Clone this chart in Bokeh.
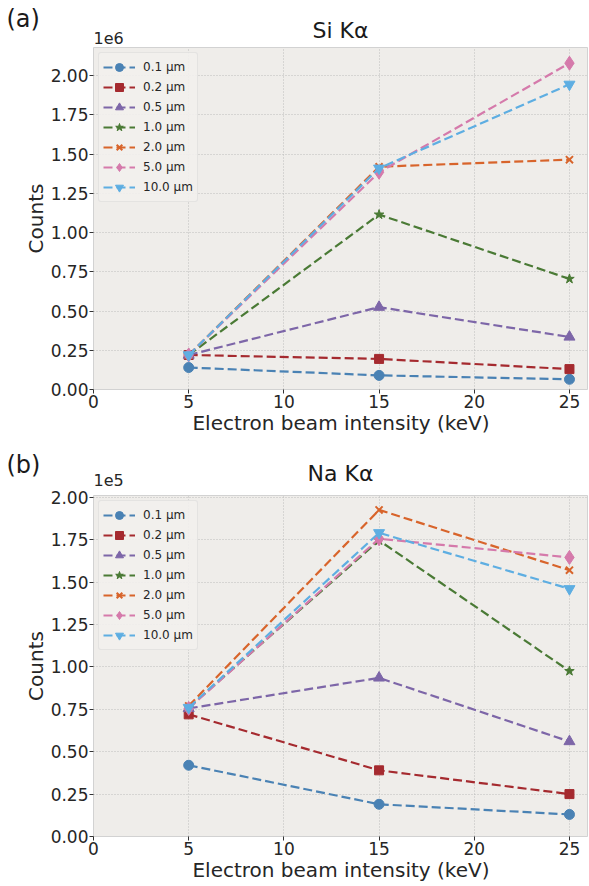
from bokeh.plotting import figure
from bokeh.layouts import column, row
from bokeh.models import FixedTicker, NumeralTickFormatter, Range1d
from bokeh.core.properties import value
from bokeh.embed import file_html
from bokeh.resources import INLINE

# ---------------- data ----------------
energy = [5, 15, 25]
thickness_labels = ["0.1 μm", "0.2 μm", "0.5 μm", "1.0 μm", "2.0 μm", "5.0 μm", "10.0 μm"]

# Si K-alpha counts (x 1e6)
si_01 = [0.14, 0.09, 0.065]
si_02 = [0.22, 0.195, 0.13]
si_05 = [0.22, 0.525, 0.335]
si_10 = [0.22, 1.115, 0.705]
si_20 = [0.22, 1.42, 1.465]
si_50 = [0.22, 1.385, 2.08]
si_100 = [0.22, 1.41, 1.945]

# Na K-alpha counts (x 1e5)
na_01 = [0.42, 0.19, 0.13]
na_02 = [0.72, 0.39, 0.25]
na_05 = [0.755, 0.935, 0.56]
na_10 = [0.76, 1.745, 0.975]
na_20 = [0.77, 1.925, 1.57]
na_50 = [0.755, 1.755, 1.645]
na_100 = [0.76, 1.79, 1.46]

y_ticks = [0.0, 0.25, 0.5, 0.75, 1.0, 1.25, 1.5, 1.75, 2.0]
x_ticks = [0, 5, 10, 15, 20, 25]

colors = ["#4a82b4", "#a52a2f", "#7d66a8", "#4a7a35", "#d8642b", "#d57aab", "#5eaee2"]
markers = ["circle", "square", "triangle", "star", "x", "diamond", "inverted_triangle"]
msizes = [10, 9, 11, 10, 10, 14, 11]

FONT = "DejaVu Sans"
W = 588


def make_header(height, tag, title, mult, ys):
    h = figure(width=W, height=height, output_backend="svg", toolbar_location=None,
               x_range=Range1d(0, W), y_range=Range1d(0, height),
               x_axis_location=None, y_axis_location=None,
               min_border=0, min_border_left=0, min_border_right=0,
               min_border_top=0, min_border_bottom=0)
    h.grid.visible = False
    h.outline_line_color = None
    h.background_fill_color = "white"
    h.border_fill_color = "white"
    h.text(x=[6], y=[ys[0]], text=[tag], text_font=value(FONT), text_font_size="24px",
           text_color="#1a1a1a", text_align="left", text_baseline="bottom")
    h.text(x=[340], y=[ys[1]], text=[title], text_font=value(FONT), text_font_size="22px",
           text_color="#1a1a1a", text_align="center", text_baseline="bottom")
    h.text(x=[93], y=[ys[2]], text=[mult], text_font=value(FONT), text_font_size="16px",
           text_color="#262626", text_align="left", text_baseline="bottom")
    return h


def make_panel(series, ymax, height, top_border):
    p = figure(width=W, height=height, output_backend="svg", toolbar_location=None,
               x_range=Range1d(0, 26.0), y_range=Range1d(0, ymax),
               min_border_left=93, min_border_right=0, min_border_top=top_border,
               min_border_bottom=40)
    p.background_fill_color = "#efedea"
    p.border_fill_color = "white"
    p.outline_line_color = "#d2d2d2"
    p.outline_line_width = 1

    for ax in (p.xaxis[0], p.yaxis[0]):
        ax.axis_line_color = None
        ax.major_tick_line_color = "#333333"
        ax.major_tick_in = 0
        ax.major_tick_out = 4
        ax.minor_tick_line_color = None
        ax.major_label_text_font = FONT
        ax.major_label_text_font_size = "17px"
        ax.major_label_text_color = "#262626"
        ax.axis_label_text_font = FONT
        ax.axis_label_text_font_size = "20px"
        ax.axis_label_text_font_style = "normal"
        ax.axis_label_text_color = "#262626"
        ax.major_label_standoff = 1
        ax.axis_label_standoff = 0

    p.xaxis.ticker = FixedTicker(ticks=x_ticks)
    p.yaxis.ticker = FixedTicker(ticks=y_ticks)
    p.yaxis.formatter = NumeralTickFormatter(format="0.00")
    p.xaxis.axis_label = "Electron beam intensity (keV)"
    p.yaxis.axis_label = "Counts"

    p.grid.grid_line_color = "#bdbdbd"
    p.grid.grid_line_dash = "1 2"
    p.grid.grid_line_width = 1

    for vals, lbl, c, m, s in zip(series, thickness_labels, colors, markers, msizes):
        p.line(energy, vals, line_color=c, line_width=2.2, line_dash="9 4", legend_label=lbl)
        p.scatter(energy, vals, marker=m, size=s, fill_color=c, line_color=c,
                  line_width=2 if m == "x" else 1, legend_label=lbl)

    lg = p.legend[0]
    lg.location = "top_left"
    lg.margin = 5
    lg.padding = 4
    lg.spacing = 0
    lg.label_height = 20
    lg.glyph_height = 20
    lg.glyph_width = 32
    lg.label_standoff = 8
    lg.label_text_font = FONT
    lg.label_text_font_size = "12px"
    lg.label_text_color = "#262626"
    lg.background_fill_color = "#f2f0ed"
    lg.background_fill_alpha = 0.9
    lg.border_line_color = "#d6d6d6"
    lg.border_line_width = 1
    lg.border_radius = 3
    return p


h1 = make_header(46, "(a)", "Si Kα", "1e6", (14, 4, 3))
p1 = make_panel([si_01, si_02, si_05, si_10, si_20, si_50, si_100], 2.18, 391, 1)
h2 = make_header(51, "(b)", "Na Kα", "1e5", (10, 3, 3))
p2 = make_panel([na_01, na_02, na_05, na_10, na_20, na_50, na_100], 2.01, 396, 7)

page = column(row(h1), p1, row(h2), p2, spacing=0)
open("out.html", "w").write(file_html(page, INLINE))
